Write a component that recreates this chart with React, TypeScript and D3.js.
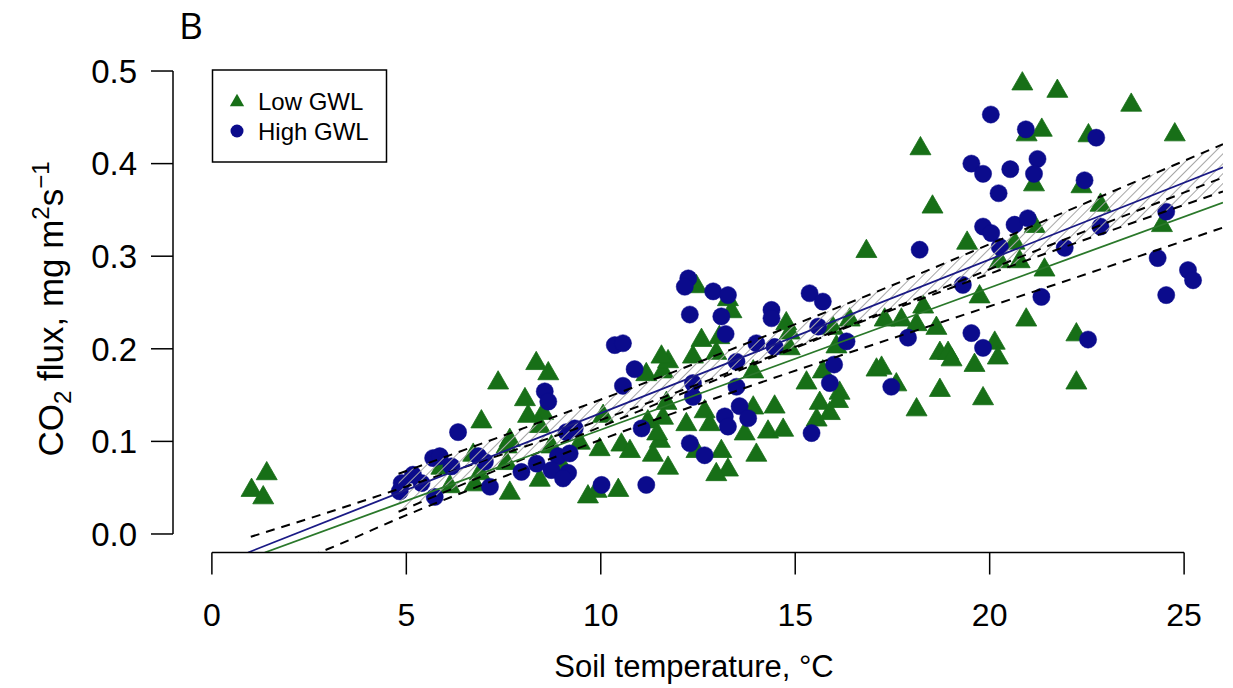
import React from "react";
import * as d3 from "d3";

// ---------- data ----------
const lowTemp = [1.02,1.32,1.41,5.9,6.12,6.72,6.93,6.89,6.76,7.36,7.58,7.58,7.66,7.66,8.34,8.65,8.05,8.13,8.52,8.43,8.43,9.03,8.73,9.46,9.97,10.06,10.53,9.89,9.67,10.45,11.17,11.6,11.73,13.92,15.29,15.71,16.14,16.1,15.63,15.55,15.89,17.09,14.47,13.92,14.3,14.69,13.7,12.67,12.8,12.2,11.69,11.6,12.46,14.0,13.1,13.27,12.97,11.73,11.34,10.75,11.52,16.83,12.46,13.27,13.36,14.77,14.86,15.97,16.06,16.4,17.3,17.73,18.29,18.63,18.72,18.93,19.02,17.22,17.6,18.12,18.72,11.56,12.59,12.37,12.97,14.86,20.84,21.74,23.64,24.76,20.95,21.34,22.54,18.22,21.14,22.36,18.53,22.85,24.43,21.16,19.42,20.64,20.26,20.77,21.41,19.74,18.12,20.94,20.13,20.21,19.61,22.23,22.23,19.83,13.05,11.21,11.45];
const lowFlux = [0.049,0.041,0.067,0.073,0.053,0.087,0.123,0.067,0.055,0.165,0.096,0.078,0.046,0.103,0.186,0.175,0.147,0.129,0.132,0.118,0.06,0.073,0.096,0.1,0.093,0.129,0.098,0.048,0.042,0.049,0.174,0.177,0.188,0.177,0.165,0.177,0.154,0.145,0.143,0.125,0.132,0.179,0.139,0.138,0.112,0.114,0.11,0.134,0.12,0.12,0.143,0.127,0.091,0.087,0.091,0.071,0.066,0.073,0.087,0.091,0.102,0.307,0.269,0.255,0.242,0.229,0.219,0.224,0.204,0.233,0.233,0.233,0.247,0.224,0.197,0.197,0.19,0.181,0.163,0.136,0.157,0.193,0.211,0.193,0.197,0.202,0.488,0.48,0.465,0.433,0.433,0.438,0.432,0.418,0.379,0.377,0.355,0.357,0.335,0.334,0.316,0.316,0.296,0.296,0.287,0.258,0.228,0.233,0.208,0.192,0.184,0.217,0.165,0.148,0.214,0.123,0.11];

const highTemp = [4.83,4.88,5.17,5.39,5.69,5.86,6.16,5.73,6.33,6.85,7.02,7.15,7.96,8.35,8.56,8.65,9.12,9.33,8.9,9.2,8.73,9.16,9.03,10.02,10.57,10.87,12.37,12.37,13.49,13.49,16.0,15.89,13.57,13.79,13.19,13.27,15.42,11.05,12.29,12.67,11.17,18.2,12.25,12.16,12.89,13.27,12.29,13.1,13.21,14.39,14.39,15.37,15.71,15.59,16.32,17.9,17.47,10.36,10.57,14.0,14.47,20.03,20.93,22.74,19.53,19.83,20.53,21.23,21.14,22.44,20.23,24.54,19.83,20.04,20.64,20.98,22.85,20.26,21.93,19.31,21.33,24.32,25.1,25.23,24.54,19.53,19.83,22.53];
const highFlux = [0.046,0.055,0.064,0.055,0.082,0.084,0.073,0.04,0.11,0.084,0.078,0.051,0.067,0.076,0.154,0.143,0.11,0.114,0.084,0.087,0.069,0.066,0.06,0.053,0.16,0.178,0.163,0.148,0.186,0.159,0.183,0.163,0.138,0.125,0.127,0.116,0.109,0.114,0.098,0.085,0.053,0.307,0.276,0.267,0.262,0.258,0.237,0.235,0.216,0.242,0.233,0.26,0.251,0.224,0.208,0.212,0.159,0.204,0.206,0.206,0.202,0.453,0.437,0.428,0.4,0.389,0.394,0.405,0.389,0.382,0.368,0.348,0.332,0.325,0.334,0.341,0.332,0.31,0.309,0.269,0.256,0.298,0.285,0.274,0.258,0.217,0.201,0.21];

// fitted lines (start at the lower edge, end at the right edge)
const highFitX = [0.93, 26];
const highFitY = [-0.02, 0.396];
const lowFitX = [1.36, 26];
const lowFitY = [-0.02, 0.358];

// confidence bands
const highCIx = [4.8, 8, 11, 14, 17, 20, 23, 26];
const highUpper = [0.065, 0.114, 0.161, 0.21, 0.26, 0.313, 0.367, 0.421];
const highLower = [0.024, 0.081, 0.133, 0.184, 0.234, 0.281, 0.326, 0.37];
const lowCIx = [1, 3, 5, 8, 11, 14, 17, 20, 23, 26];
const lowUpper = [-0.003, 0.0235, 0.0513, 0.0937, 0.1383, 0.1858, 0.2354, 0.2859, 0.336, 0.385];
const lowLower = [-0.048, -0.016, 0.0203, 0.0699, 0.1173, 0.162, 0.2044, 0.2459, 0.288, 0.331];

const xTicks = [0, 5, 10, 15, 20, 25];
const yTicks = [0, 0.1, 0.2, 0.3, 0.4, 0.5];
const legendLabels = ["Low GWL", "High GWL"];

const GREEN = "#176f17";
const BLUE = "#0b0b8c";
const FONT = "'Liberation Sans', Arial, Helvetica, sans-serif";

export default function App() {
  const W = 1233, H = 688;
  const left = 173, right = 1223, top = 52.5, bottom = 552.5;
  const x = d3.scaleLinear().domain([-1, 26]).range([left, right]);
  const y = d3.scaleLinear().domain([-0.02, 0.52]).range([bottom, top]);

  const ci = d3.line<[number, number]>().x(d => x(d[0])).y(d => y(d[1])).curve(d3.curveMonotoneX);
  const band = d3.area<number>()
    .x((_, i) => x(highCIx[i]))
    .y0((_, i) => y(highLower[i]))
    .y1((_, i) => y(highUpper[i]))
    .curve(d3.curveMonotoneX);

  const zip = (a: number[], b: number[]) => a.map((v, i) => [v, b[i]] as [number, number]);
  const tri = (cx: number, cy: number, s = 1) =>
    `M${cx},${cy - 10.5 * s}L${cx + 10.5 * s},${cy + 7.8 * s}L${cx - 10.5 * s},${cy + 7.8 * s}Z`;

  return (
    <svg width={W} height={H} style={{ position: "absolute", left: 0, top: 0, background: "#fff" }} fontFamily={FONT}>
      <defs>
        <clipPath id="plotClip">
          <rect x={left} y={top} width={right - left} height={bottom - top} />
        </clipPath>
        <pattern id="hatch" width="7" height="7" patternUnits="userSpaceOnUse" patternTransform="rotate(45)">
          <line x1="0" y1="-1" x2="0" y2="8" stroke="#a6a6a6" strokeWidth="2" />
        </pattern>
      </defs>
      <rect x={0} y={0} width={W} height={H} fill="#fff" />

      {/* panel letter */}
      <text x={179} y={39} fontSize={37} fontFamily="'Open Sans', 'Noto Sans', sans-serif">B</text>

      {/* points */}
      <g clipPath="url(#plotClip)">
        {lowTemp.map((t, i) => (
          <path key={"l" + i} d={tri(x(t), y(lowFlux[i]))} fill={GREEN} stroke={GREEN} strokeWidth={0.8} />
        ))}
        {highTemp.map((t, i) => (
          <circle key={"h" + i} cx={x(t)} cy={y(highFlux[i])} r={8.6} fill={BLUE} stroke={BLUE} strokeWidth={0.5} />
        ))}
      </g>

      {/* fits and bands */}
      <g clipPath="url(#plotClip)" fill="none">
        <path d={band(highCIx) || ""} fill="url(#hatch)" stroke="none" />
        <path d={ci(zip(highCIx, highUpper)) || ""} stroke="#000" strokeWidth={2} strokeDasharray="9,7" />
        <path d={ci(zip(highCIx, highLower)) || ""} stroke="#000" strokeWidth={2} strokeDasharray="9,7" />
        <path d={ci(zip(lowCIx, lowUpper)) || ""} stroke="#000" strokeWidth={2} strokeDasharray="9,7" />
        <path d={ci(zip(lowCIx, lowLower)) || ""} stroke="#000" strokeWidth={2} strokeDasharray="9,7" />
        <line x1={x(highFitX[0])} y1={y(highFitY[0])} x2={x(highFitX[1])} y2={y(highFitY[1])} stroke="#1a1a85" strokeWidth={1.8} />
        <line x1={x(lowFitX[0])} y1={y(lowFitY[0])} x2={x(lowFitX[1])} y2={y(lowFitY[1])} stroke="#2a782a" strokeWidth={1.8} />
      </g>

      {/* axes */}
      <g stroke="#000" strokeWidth={1.5}>
        <line x1={left} y1={y(0)} x2={left} y2={y(0.5)} />
        {yTicks.map(t => (
          <line key={"yt" + t} x1={left - 22} y1={y(t)} x2={left} y2={y(t)} />
        ))}
        <line x1={x(0)} y1={bottom} x2={x(25)} y2={bottom} />
        {xTicks.map(t => (
          <line key={"xt" + t} x1={x(t)} y1={bottom} x2={x(t)} y2={bottom + 22} />
        ))}
      </g>
      {yTicks.map(t => (
        <text key={"yl" + t} x={137} y={y(t)} dy="0.36em" textAnchor="end" fontSize={33}>{t.toFixed(1)}</text>
      ))}
      {xTicks.map(t => (
        <text key={"xl" + t} x={x(t)} y={626} textAnchor="middle" fontSize={32}>{t}</text>
      ))}

      {/* axis titles */}
      <text x={(left + right) / 2 - 4} y={677} textAnchor="middle" fontSize={31}>Soil temperature, °C</text>
      <text transform={`translate(63, 309) rotate(-90)`} textAnchor="middle" fontSize={35}>
        CO<tspan dy={8} fontSize={24}>2</tspan>
        <tspan dy={-8}> flux, mg m</tspan>
        <tspan dy={-14} fontSize={24}>2</tspan>
        <tspan dy={14}>s</tspan>
        <tspan dy={-14} fontSize={24}>−1</tspan>
      </text>

      {/* legend */}
      <rect x={212.5} y={70} width={174} height={92} fill="#fff" stroke="#000" strokeWidth={1.5} />
      <path d={tri(237, 101, 0.68)} fill={GREEN} />
      <circle cx={237} cy={131} r={6.5} fill={BLUE} />
      <text x={258} y={110} fontSize={24}>{legendLabels[0]}</text>
      <text x={258} y={140} fontSize={24}>{legendLabels[1]}</text>
    </svg>
  );
}
